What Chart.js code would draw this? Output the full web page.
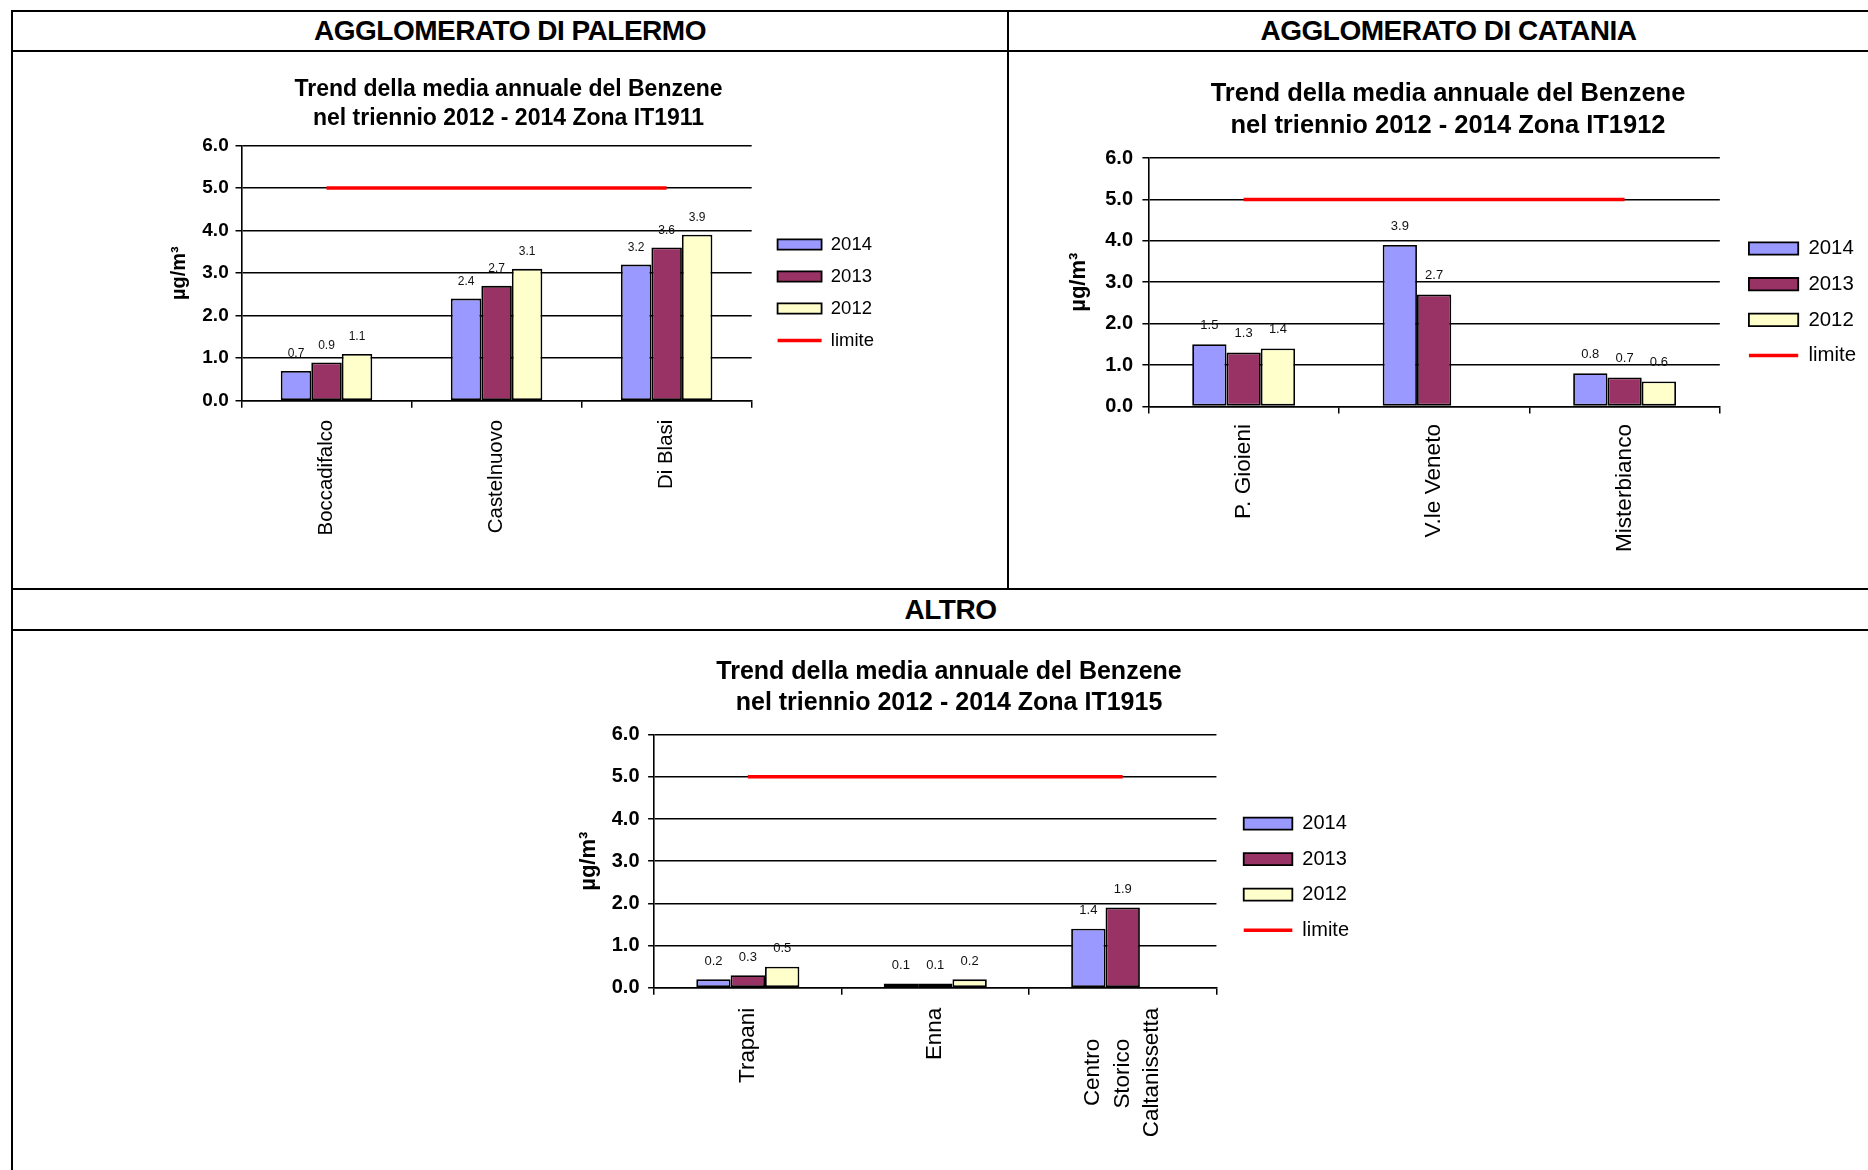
<!DOCTYPE html>
<html>
<head>
<meta charset="utf-8">
<script src="https://cdn.jsdelivr.net/npm/chart.js@4.4.1/dist/chart.umd.min.js"></script>
<style>
    body { margin: 0; width: 1868px; height: 1170px; overflow: hidden; background: #fff; position: relative; font-family: "Liberation Sans", Arial, sans-serif; }
    .rule { position: absolute; background: #000; }
    .head { position: absolute; display: flex; align-items: center; justify-content: center; font-weight: bold; font-size: 28px; letter-spacing: -0.5px; color: #000; }
    canvas { position: absolute; }
</style>
</head>
<body>
<div class="rule" style="left:11px; top:10px; width:1877px; height:2px"></div>
<div class="rule" style="left:11px; top:50px; width:1877px; height:2px"></div>
<div class="rule" style="left:11px; top:10px; width:2px; height:1160px"></div>
<div class="rule" style="left:1007px; top:10px; width:2px; height:580px"></div>
<div class="rule" style="left:11px; top:588px; width:1877px; height:2px"></div>
<div class="rule" style="left:11px; top:629px; width:1877px; height:2px"></div>
<div class="head" style="left:13px; top:12px; width:994px; height:38px">AGGLOMERATO DI PALERMO</div>
<div class="head" style="left:1009px; top:12px; width:879px; height:38px">AGGLOMERATO DI CATANIA</div>
<div class="head" style="left:13px; top:590px; width:1875px; height:39px">ALTRO</div>
<canvas id="palermo" width="751" height="481" style="left:133px; top:60px"></canvas>
<canvas id="catania" width="836" height="506" style="left:1030px; top:60px"></canvas>
<canvas id="altro" width="820" height="525" style="left:539px; top:640px"></canvas>
<script>
const seriesLabels = ['2014', '2013', '2012'];
const limitLabel = 'limite';
const unitLabel = 'µg/m³';
const titleLine1 = 'Trend della media annuale del Benzene';

const palermoStations = ['Boccadifalco', 'Castelnuovo', 'Di Blasi'];
const palermo2014 = [0.7, 2.4, 3.2];
const palermo2013 = [0.9, 2.7, 3.6];
const palermo2012 = [1.1, 3.1, 3.9];
const palermoLimit = [5.0, 5.0, 5.0];

const cataniaStations = ['P. Gioieni', 'V.le Veneto', 'Misterbianco'];
const catania2014 = [1.5, 3.9, 0.8];
const catania2013 = [1.3, 2.7, 0.7];
const catania2012 = [1.4, null, 0.6];
const cataniaLimit = [5.0, 5.0, 5.0];

// empty first lines / trailing spaces keep the rotated multi-line label centred on its tick
const altroStations = [['', 'Trapani'], ['', 'Enna'], ['Centro     ', 'Storico     ', 'Caltanissetta']];
const altro2014 = [0.2, 0.1, 1.4];
const altro2013 = [0.3, 0.1, 1.9];
const altro2012 = [0.5, 0.2, null];
const altroLimit = [5.0, 5.0, 5.0];

const barColors = ['#9999ff', '#993366', '#ffffcc'];
const fontFamily = '"Liberation Sans", Arial, sans-serif';

Chart.defaults.font.family = fontFamily;
Chart.defaults.color = '#000';
Chart.defaults.animation = false;

const layouts = {
    palermo: { titleSize: 23, titleLine: 1.245, titleTop: 15.3, titleBottom: 12.9, yWidth: 108.5, yPad: 6.8, tickSize: 19, unitSize: 20, unitPad: 34,
        xHeight: 140.3, xPad: 12.1, xSize: 20.4, xLine: 1.2, xShift: 0, gapWidth: 12.4, legendSize: 18.5, legendPad: 13.5, legendTop: 76.3,
        boxW: 44, boxH: 10.4, catPct: 0.538, valueSize: 12, valueGap: 13.5 },
    catania: { titleSize: 25.5, titleLine: 1.2275, titleTop: 18.55, titleBottom: 16.85, yWidth: 118.4, yPad: 9.4, tickSize: 20, unitSize: 22, unitPad: 35.6,
        xHeight: 159.6, xPad: 10.6, xSize: 22.6, xLine: 1.2, xShift: 0, gapWidth: 13.8, legendSize: 20.4, legendPad: 15.3, legendTop: 65,
        boxW: 49.3, boxH: 12.4, catPct: 0.54, valueSize: 13, valueGap: 15.4 },
    altro: { titleSize: 25, titleLine: 1.26, titleTop: 16.35, titleBottom: 15.25, yWidth: 115.1, yPad: 8.6, tickSize: 20, unitSize: 22, unitPad: 36.5,
        xHeight: 177.2, xPad: 13, xSize: 22.4, xLine: 1.32, xShift: -29.57, gapWidth: 11.8, legendSize: 20, legendPad: 15.5, legendTop: 63.6,
        boxW: 48.6, boxH: 12, catPct: 0.55, valueSize: 13, valueGap: 14.4 }
};

const barValues = {
    id: 'barValues',
    afterDatasetsDraw(chart, args, opts) {
        const ctx = chart.ctx;
        ctx.save();
        ctx.font = `${opts.size}px ${fontFamily}`;
        ctx.fillStyle = '#111';
        ctx.textAlign = 'center';
        ctx.textBaseline = 'alphabetic';
        chart.data.datasets.forEach((ds, i) => {
            const meta = chart.getDatasetMeta(i);
            if (meta.type !== 'bar') return;
            meta.data.forEach((bar, j) => {
                const v = ds.data[j];
                if (v === null || v === undefined) return;
                ctx.fillText(v.toFixed(1), bar.x, bar.y - opts.gap);
            });
        });
        ctx.restore();
    }
};

function buildChart(id, zone, stations, values, limit) {
    const L = layouts[id];
    const datasets = seriesLabels.map((label, i) => ({
        type: 'bar',
        label,
        data: values[i],
        backgroundColor: barColors[i],
        borderColor: '#000',
        borderWidth: 1.8,
        borderSkipped: false,
        pointStyle: 'rect',
        categoryPercentage: L.catPct,
        barPercentage: 1
    }));
    datasets.push({
        type: 'line',
        label: limitLabel,
        data: limit,
        borderColor: '#ff0000',
        backgroundColor: '#ff0000',
        borderWidth: 3.5,
        pointRadius: 0,
        pointHoverRadius: 0,
        pointStyle: 'line',
        pointBorderWidth: 3.5,
        pointBorderColor: '#ff0000'
    });

    return new Chart(document.getElementById(id), {
        type: 'bar',
        data: { labels: stations, datasets },
        options: {
            responsive: false,
            maintainAspectRatio: false,
            layout: { padding: 0 },
            events: [],
            plugins: {
                title: {
                    display: true,
                    text: [titleLine1, `nel triennio 2012 - 2014 Zona ${zone}`],
                    color: '#000',
                    font: { size: L.titleSize, weight: 'bold', lineHeight: L.titleLine },
                    padding: { top: L.titleTop, bottom: L.titleBottom }
                },
                legend: {
                    position: 'right',
                    align: 'start',
                    fullSize: false,
                    title: { display: true, text: '', font: { size: 1, lineHeight: 1 }, padding: { top: L.legendTop - 1, bottom: 0 } },
                    labels: {
                        usePointStyle: true,
                        pointStyleWidth: L.boxW,
                        boxWidth: L.boxW,
                        boxHeight: L.boxH,
                        padding: L.legendPad,
                        color: '#000',
                        font: { size: L.legendSize }
                    }
                },
                tooltip: { enabled: false },
                barValues: { size: L.valueSize, gap: L.valueGap }
            },
            scales: {
                x: {
                    offset: true,
                    grid: { display: true, offset: true, drawOnChartArea: false, drawTicks: true, tickLength: 7, color: '#000', lineWidth: 1.5 },
                    border: { display: true, color: '#000', width: 1.6 },
                    ticks: {
                        autoSkip: false,
                        minRotation: 90,
                        maxRotation: 90,
                        padding: L.xPad,
                        labelOffset: L.xShift,
                        color: '#000',
                        font: { size: L.xSize, lineHeight: L.xLine }
                    },
                    afterFit: s => { s.height = L.xHeight; }
                },
                y: {
                    min: 0,
                    max: 6,
                    grid: { color: '#000', lineWidth: 1.5, drawTicks: true, tickLength: 6, tickColor: '#000' },
                    border: { display: true, color: '#000', width: 1.6 },
                    ticks: {
                        stepSize: 1,
                        padding: L.yPad,
                        color: '#000',
                        font: { size: L.tickSize, weight: 'bold' },
                        callback: v => Number(v).toFixed(1)
                    },
                    title: {
                        display: true,
                        text: unitLabel,
                        color: '#000',
                        font: { size: L.unitSize, weight: 'bold', lineHeight: 1.2 },
                        padding: { top: L.unitPad, bottom: 0 }
                    },
                    afterFit: s => { s.width = L.yWidth; }
                },
                gap: {
                    type: 'linear',
                    position: 'right',
                    display: true,
                    grid: { display: false },
                    border: { display: false },
                    ticks: { display: false },
                    afterFit: s => { s.width = L.gapWidth; }
                }
            }
        },
        plugins: [barValues]
    });
}

buildChart('palermo', 'IT1911', palermoStations, [palermo2014, palermo2013, palermo2012], palermoLimit);
buildChart('catania', 'IT1912', cataniaStations, [catania2014, catania2013, catania2012], cataniaLimit);
buildChart('altro', 'IT1915', altroStations, [altro2014, altro2013, altro2012], altroLimit);
</script>
</body>
</html>
